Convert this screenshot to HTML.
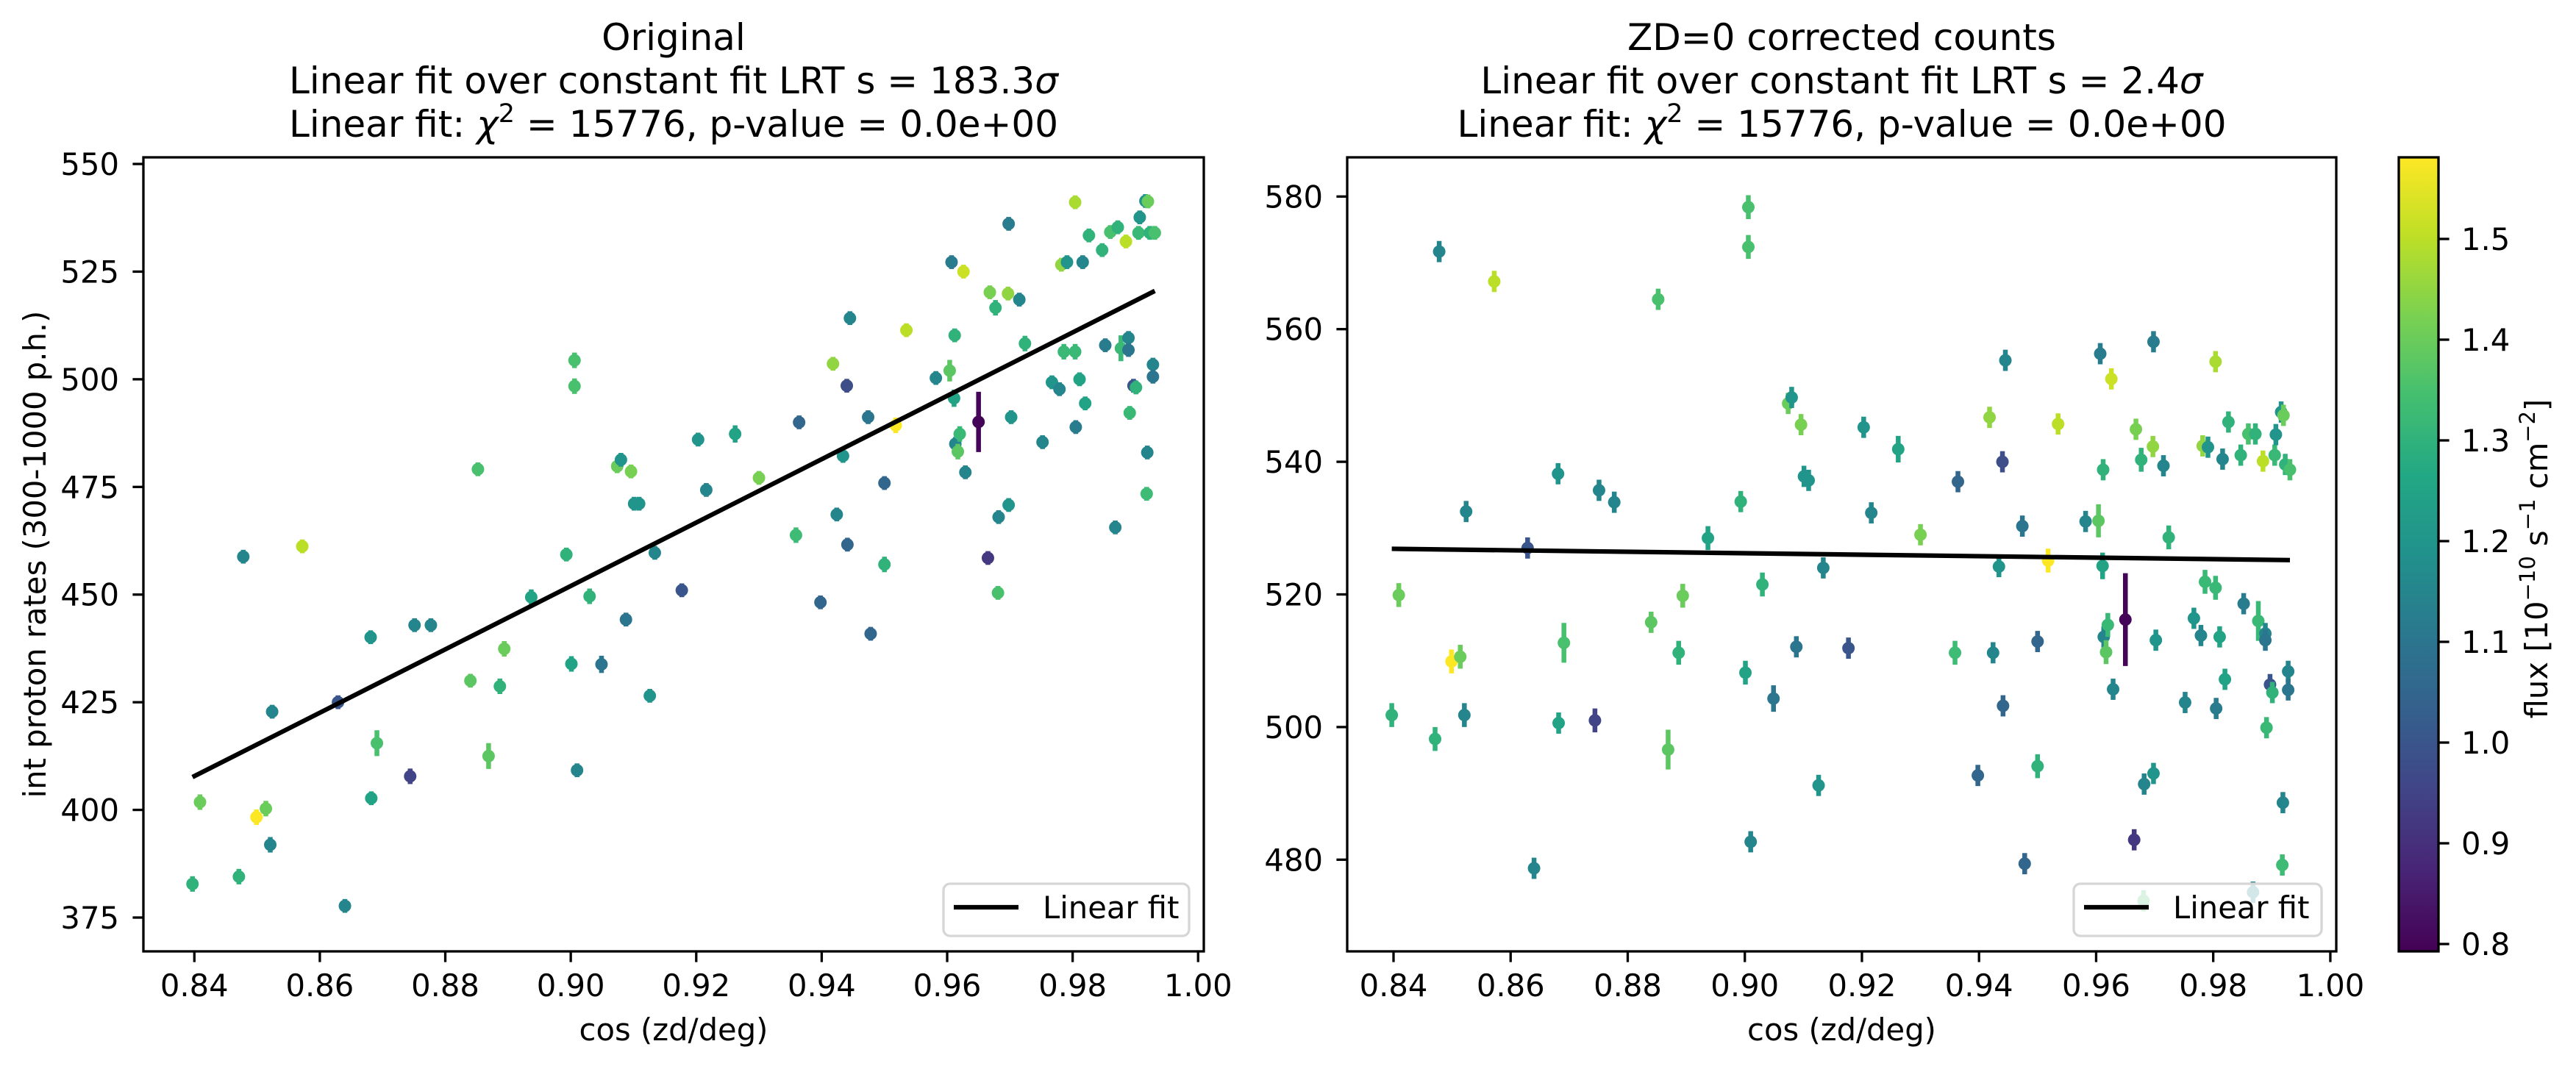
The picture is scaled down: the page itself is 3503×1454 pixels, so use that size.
<!DOCTYPE html>
<html><head><meta charset="utf-8">
<style>
html,body{margin:0;padding:0;background:#fff;}
svg{display:block;font-family:"DejaVu Sans","Liberation Sans",sans-serif;}
</style></head>
<body>
<svg id="fig" xmlns="http://www.w3.org/2000/svg" width="3503" height="1454" viewBox="0 0 3503 1454">
<defs>
<linearGradient id="viridis" x1="0" y1="1" x2="0" y2="0">
<stop offset="0" stop-color="#440154"/><stop offset="0.1" stop-color="#482475"/><stop offset="0.2" stop-color="#414487"/><stop offset="0.3" stop-color="#355f8d"/><stop offset="0.4" stop-color="#2a788e"/><stop offset="0.5" stop-color="#21918c"/><stop offset="0.6" stop-color="#22a884"/><stop offset="0.7" stop-color="#44bf70"/><stop offset="0.8" stop-color="#7ad151"/><stop offset="0.9" stop-color="#bddf26"/><stop offset="1" stop-color="#fde725"/>
</linearGradient>
</defs>
<rect width="3503" height="1454" fill="#fff"/>
<g id="left"></g>
<g id="right"></g>
<g id="cbar"></g>
</svg>
<script>
const cosZd = [0.8397,0.8409,0.8471,0.8478,0.8499,0.8514,0.8521,0.8524,0.8572,0.8629,0.8640,0.8681,0.8682,0.8691,0.8744,0.8751,0.8777,0.8840,0.8852,0.8869,0.8887,0.8894,0.8937,0.8993,0.9001,0.9006,0.9006,0.9010,0.9030,0.9049,0.9074,0.9080,0.9088,0.9096,0.9101,0.9109,0.9126,0.9134,0.9177,0.9203,0.9216,0.9262,0.9300,0.9359,0.9364,0.9398,0.9418,0.9424,0.9434,0.9440,0.9441,0.9445,0.9474,0.9478,0.9500,0.9500,0.9518,0.9535,0.9582,0.9604,0.9607,0.9611,0.9613,0.9617,0.9620,0.9612,0.9626,0.9629,0.9650,0.9665,0.9668,0.9677,0.9682,0.9681,0.9697,0.9698,0.9698,0.9702,0.9715,0.9724,0.9752,0.9767,0.9779,0.9782,0.9786,0.9791,0.9804,0.9804,0.9805,0.9811,0.9816,0.9820,0.9826,0.9847,0.9852,0.9860,0.9868,0.9872,0.9877,0.9885,0.9889,0.9889,0.9891,0.9897,0.9901,0.9905,0.9907,0.9916,0.9920,0.9918,0.9919,0.9923,0.9931,0.9928,0.9928];
const flux = [1.3,1.4,1.3,1.15,1.58,1.4,1.15,1.15,1.5,1.0,1.15,1.2,1.25,1.35,0.95,1.15,1.15,1.38,1.35,1.38,1.3,1.4,1.25,1.3,1.25,1.35,1.35,1.15,1.3,1.1,1.4,1.2,1.1,1.42,1.2,1.2,1.2,1.15,1.0,1.2,1.15,1.25,1.42,1.33,1.05,1.05,1.45,1.15,1.2,0.98,1.05,1.15,1.1,1.05,1.05,1.3,1.58,1.5,1.15,1.38,1.12,1.25,1.15,1.38,1.32,1.3,1.52,1.15,0.8,0.92,1.42,1.3,1.15,1.35,1.45,1.2,1.12,1.2,1.15,1.3,1.15,1.2,1.15,1.45,1.32,1.2,1.48,1.32,1.12,1.25,1.15,1.25,1.3,1.3,1.12,1.35,1.15,1.3,1.32,1.5,1.15,1.1,1.32,1.0,1.3,1.32,1.2,1.2,1.4,1.33,1.15,1.3,1.35,1.15,1.1];
const rateOrig = [382.8,401.8,384.5,458.8,398.3,400.3,391.9,422.8,461.2,425.0,377.7,440.1,402.7,415.5,407.8,442.9,442.9,430.0,479.1,412.5,428.7,437.4,449.4,459.3,433.9,498.4,504.4,409.2,449.6,433.8,479.8,481.3,444.2,478.6,471.1,471.1,426.5,459.7,451.0,486.0,474.3,487.3,477.1,463.8,490.0,448.2,503.6,468.6,482.2,498.5,461.6,514.2,491.2,440.9,475.9,457.0,489.3,511.4,500.3,502.0,527.2,495.6,485.0,483.2,487.3,510.2,525.0,478.4,490.1,458.5,520.2,516.6,468.0,450.4,519.9,470.8,536.1,491.2,518.5,508.3,485.4,499.3,497.7,526.6,506.4,527.2,541.1,506.4,488.9,500.0,527.2,494.4,533.4,530.0,507.9,534.2,465.6,535.3,507.2,532.0,509.6,506.8,492.2,498.5,498.1,534.0,537.6,541.4,541.3,473.4,483.0,534.0,534.0,503.4,500.6];
const rateCorr = [501.8,519.9,498.2,571.7,509.9,510.6,501.8,532.5,567.2,527.0,478.7,538.2,500.6,512.7,501.0,535.7,533.9,515.8,564.5,496.6,511.2,519.8,528.5,534.0,508.2,572.4,578.4,482.7,521.5,504.3,548.8,549.7,512.1,545.6,537.8,537.2,491.2,524.0,511.9,545.2,532.3,541.9,529.0,511.2,537.0,492.7,546.7,511.2,524.2,540.0,503.2,555.3,530.3,479.4,512.9,494.1,525.1,545.7,531.0,531.1,556.3,524.3,513.6,511.3,515.4,538.8,552.5,505.7,516.2,483.0,544.9,540.3,491.4,473.8,542.3,493.0,558.1,513.1,539.4,528.6,503.7,516.4,513.8,542.4,521.9,542.2,555.1,521.0,502.8,513.6,540.4,507.2,546.0,541.0,518.6,544.2,475.1,544.2,516.0,540.1,514.1,513.1,499.9,506.4,505.2,541.0,544.1,547.5,547.0,479.2,488.6,539.6,538.8,508.4,505.6];
const rateErr = [1.8,1.8,1.8,1.6,1.8,1.8,1.8,1.6,1.6,1.6,1.6,1.6,1.6,3.0,1.8,1.6,1.6,1.6,1.6,3.0,1.8,1.8,1.8,1.6,1.8,1.8,1.8,1.6,1.8,2.0,1.6,1.6,1.6,1.6,1.6,1.6,1.6,1.6,1.6,1.6,1.6,2.0,1.6,1.8,1.6,1.6,1.6,1.6,1.6,1.6,1.6,1.6,1.6,1.6,1.6,1.8,1.8,1.6,1.6,2.5,1.6,2.0,1.6,1.8,1.8,1.6,1.6,1.6,7.0,1.6,1.6,1.8,1.6,1.6,1.6,1.6,1.6,1.6,1.6,1.8,1.6,1.6,1.6,1.6,1.8,1.6,1.6,1.8,1.6,1.6,1.6,1.6,1.6,1.6,1.6,1.6,1.6,1.6,3.0,1.6,1.6,1.6,1.6,1.6,1.6,1.6,1.6,1.6,1.6,1.6,1.6,1.6,1.6,1.6,1.6];
const fitOrig = [736.0, -210.4];
const fitCorr = [-11.1, 536.2];
const xTicks = [0.84,0.86,0.88,0.90,0.92,0.94,0.96,0.98,1.00];
const yTicksOrig = [375,400,425,450,475,500,525,550];
const yTicksCorr = [480,500,520,540,560,580];
const cbTicks = [0.8,0.9,1.0,1.1,1.2,1.3,1.4,1.5];
const fluxRange = [0.793, 1.581];

const NS = "http://www.w3.org/2000/svg";
function el(tag, attrs, parent){const e=document.createElementNS(NS,tag);for(const k in attrs)e.setAttribute(k,attrs[k]);parent.appendChild(e);return e;}
const VIR=["#440154","#482475","#414487","#355f8d","#2a788e","#21918c","#22a884","#44bf70","#7ad151","#bddf26","#fde725"];
function hex(h){return [parseInt(h.slice(1,3),16),parseInt(h.slice(3,5),16),parseInt(h.slice(5,7),16)];}
function viridis(v){let t=(v-fluxRange[0])/(fluxRange[1]-fluxRange[0]);t=Math.max(0,Math.min(1,t))*10;const i=Math.min(9,Math.floor(t)),f=t-i;const a=hex(VIR[i]),b=hex(VIR[i+1]);return "rgb("+a.map((c,k)=>Math.round(c+(b[k]-c)*f)).join(",")+")";}

function panel(g, box, xs, ys, yT, rate, fit, legendBox, titleLines){
  const [L,R,T,B]=box;
  // points
  for(let i=0;i<cosZd.length;i++){
    const c=viridis(flux[i]);
    const px=xs(cosZd[i]), py=ys(rate[i]);
    const eb=el("line",{x1:px,x2:px,y1:ys(rate[i]+rateErr[i]),y2:ys(rate[i]-rateErr[i]),stroke:c,"stroke-width":6.5},g);
    
    
    const pt=el("circle",{cx:px,cy:py,r:8.5,fill:c},g);
    
    
  }
  // fit line
  const x0=Math.min(...cosZd), x1=Math.max(...cosZd);
  const fl=el("line",{x1:xs(x0),y1:ys(fit[0]*x0+fit[1]),x2:xs(x1),y2:ys(fit[0]*x1+fit[1]),stroke:"#000","stroke-width":6.2},g);
  
  
  // frame
  const fr=el("rect",{x:L,y:T,width:R-L,height:B-T,fill:"none",stroke:"#000","stroke-width":3.3},g);
  
  
  // x ticks
  xTicks.forEach(v=>{
    const x=xs(v);
    const tk=el("line",{x1:x,x2:x,y1:B,y2:B+14.6,stroke:"#000","stroke-width":3.3},g);
    
    
    const tl=el("text",{x:x,y:1355,"font-size":41.7,"text-anchor":"middle"},g);
    tl.textContent=v.toFixed(2);
    
    
  });
  yT.forEach(v=>{
    const y=ys(v);
    const tk=el("line",{x1:L-14.6,x2:L,y1:y,y2:y,stroke:"#000","stroke-width":3.3},g);
    
    
    const tl=el("text",{x:L-33,y:y+15,"font-size":41.7,"text-anchor":"end"},g);
    tl.textContent=String(v);
    
    
  });
  // x label
  const xl=el("text",{x:(L+R)/2,y:1415,"font-size":41.7,"text-anchor":"middle"},g);
  xl.textContent="cos (zd/deg)";
  
  
  // title
  const cx=(L+R)/2;
  titleLines.forEach((ln,k)=>{
    const t=el("text",{x:cx,y:68+k*59,"font-size":50,"text-anchor":"middle"},g);
    t.innerHTML=ln;
    
    
  });
  // legend
  const [lx,ly,lw,lh]=legendBox;
  const lg=el("g",{},g);
  
  
  el("rect",{x:lx,y:ly,width:lw,height:lh,rx:9,fill:"rgba(255,255,255,0.8)",stroke:"#d6d6d6","stroke-width":3.3},lg);
  const ll=el("line",{x1:lx+14,x2:lx+102,y1:ly+32,y2:ly+32,stroke:"#000","stroke-width":6.2},lg);
  
  
  const lt=el("text",{x:lx+135,y:ly+47,"font-size":41.7},lg);
  lt.textContent="Linear fit";
  
  
}

const gL=document.getElementById("left"), gR=document.getElementById("right"), gC=document.getElementById("cbar");
const xL=v=>264.3+(v-0.84)*8531, yL=v=>1248-(v-375)*5.857;
const xR=v=>1895+(v-0.84)*7962, yR=v=>267.3+(580-v)*9.02;

panel(gL,[195,1637,214,1294],xL,yL,yTicksOrig,rateOrig,fitOrig,[1283,1202,334,71],
 ["Original","Linear fit over constant fit LRT s = 183.3<tspan font-style=\"italic\">σ</tspan>",
  "Linear fit: <tspan font-style=\"italic\">χ</tspan><tspan font-size=\"35\" dy=\"-20\">2</tspan><tspan dy=\"20\"> = 15776, p-value = 0.0e+00</tspan>"]);
panel(gR,[1832,3177,214,1294],xR,yR,yTicksCorr,rateCorr,fitCorr,[2820,1202,337,71],
 ["ZD=0 corrected counts","Linear fit over constant fit LRT s = 2.4<tspan font-style=\"italic\">σ</tspan>",
  "Linear fit: <tspan font-style=\"italic\">χ</tspan><tspan font-size=\"35\" dy=\"-20\">2</tspan><tspan dy=\"20\"> = 15776, p-value = 0.0e+00</tspan>"]);

// y-axis title left
const yl=el("text",{x:0,y:0,"font-size":41.7,"text-anchor":"middle",transform:"translate(62,754) rotate(-90)"},gL);
yl.textContent="int proton rates (300-1000 p.h.)";



// colorbar
const yC=v=>1284-(v-0.8)*1370;
const cbr=el("rect",{x:3262,y:214,width:54,height:1080,fill:"url(#viridis)",stroke:"#000","stroke-width":3.3},gC);


cbTicks.forEach(v=>{
  const y=yC(v);
  const tk=el("line",{x1:3316,x2:3330.6,y1:y,y2:y,stroke:"#000","stroke-width":3.3},gC);
  
  
  const tl=el("text",{x:3347,y:y+15,"font-size":41.7},gC);
  tl.textContent=v.toFixed(1);
  
  
});
const cl=el("text",{x:0,y:0,"font-size":41.7,"text-anchor":"middle",transform:"translate(3464,760) rotate(-90)"},gC);
cl.innerHTML='flux [10<tspan font-size="29" dy="-17">−10</tspan><tspan dy="17"> s</tspan><tspan font-size="29" dy="-17">−1</tspan><tspan dy="17"> cm</tspan><tspan font-size="29" dy="-17">−2</tspan><tspan dy="17">]</tspan>';


</script>
</body></html>
